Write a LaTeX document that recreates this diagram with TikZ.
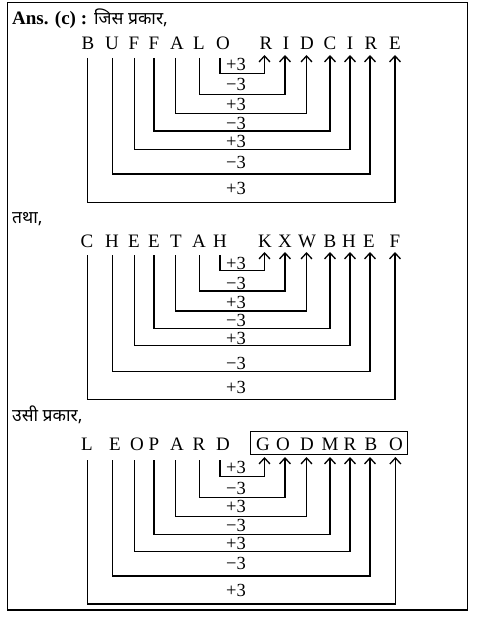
\documentclass[tikz,border=0pt]{standalone}
\usepackage{fontspec}
\setmainfont{Liberation Serif}
\newfontfamily\deva[Script=Devanagari]{Noto Sans}
\usetikzlibrary{arrows.meta}
\begin{document}
\begin{tikzpicture}[x=1pt,y=-1pt,
  letter/.style={font=\fontsize{19}{20}\selectfont, inner sep=0pt, anchor=base},
  lab/.style={font=\fontsize{18.5}{20}\selectfont, inner sep=0pt, anchor=base},
  head/.style={font=\bfseries\fontsize{19}{20}\selectfont, inner sep=0pt, anchor=base west},
  dev/.style={font=\deva\fontsize{17.5}{20}\selectfont, inner sep=0pt, anchor=base west},
  conn/.style={line width=1.3pt, -{Straight Barb[length=6pt,width=11pt]}},
  frame/.style={line width=1.3pt}]
\useasboundingbox (0,0) rectangle (482,636);
\draw[frame] (7.3,2.5) rectangle (467.5,610);

% ---------- section 1 ----------
\node[head] (h1) at (12,25) {Ans. (c) :};
\node[dev] (h1b) at (94,25) {जिस प्रकार,};
\foreach \t/\x [count=\i] in {B/88,U/112,F/134,F/154,A/177,L/199,O/223}
  \node[letter] (pa\i) at (\x,50) {\t};
\foreach \t/\x [count=\i] in {R/266,I/286,D/307,C/330,I/350,R/371,E/395}
  \node[letter] (pb\i) at (\x,50) {\t};
\foreach \s/\y [count=\k] in {+3/70.5,−3/91,+3/110.5,−3/129.3,+3/147.6,−3/169,+3/194.5}
  \node[lab] (pl\k) at (236,\y) {\s};
\foreach \i/\j/\lev/\ax/\bx in {7/1/73.3/-3/-1.5, 6/2/94.3/0.2/-1, 5/3/113.3/-1.7/-0.5, 4/4/131/0/0, 3/5/149.3/0.3/0, 2/6/174/0.2/-1, 1/7/202.3/-0.7/0}
  \draw[conn] ([xshift=\ax pt,yshift=-8pt]pa\i.base) |- (236,\lev) -| ([xshift=\bx pt,yshift=-5pt]pb\j.base);

% ---------- section 2 ----------
\node[dev] (h2) at (12,223) {तथा,};
\foreach \t/\x [count=\i] in {C/87,H/112,E/134,E/154,T/176,A/199,H/220}
  \node[letter] (qa\i) at (\x,247) {\t};
\foreach \t/\x [count=\i] in {K/265,X/285,W/307,B/330,H/349,E/369,F/395}
  \node[letter] (qb\i) at (\x,247) {\t};
\foreach \s/\y [count=\k] in {+3/269,−3/289.3,+3/308.2,−3/326.3,+3/344,−3/369.5,+3/393.2}
  \node[lab] (ql\k) at (236,\y) {\s};
\foreach \i/\j/\lev/\ax/\bx in {7/1/270.7/0/-0.5, 6/2/291/0.2/0, 5/3/311/-0.7/-0.5, 4/4/328.3/0/0, 3/5/345.7/0.3/1, 2/6/371.7/0.2/1, 1/7/399.3/0.3/0}
  \draw[conn] ([xshift=\ax pt,yshift=-8pt]qa\i.base) |- (236,\lev) -| ([xshift=\bx pt,yshift=-5pt]qb\j.base);

% ---------- section 3 ----------
\node[dev] (h3) at (12,421.5) {उसी प्रकार,};
\foreach \t/\x [count=\i] in {L/87,E/115,O/137,P/154,A/177,R/199,D/223}
  \node[letter] (ra\i) at (\x,450.5) {\t};
\foreach \t/\x [count=\i] in {G/263,O/283,D/307,M/330,R/350,B/371,O/396}
  \node[letter] (rb\i) at (\x,450.5) {\t};
\node[frame, draw, minimum width=156.6pt, minimum height=22.6pt, inner sep=0pt] (box) at (329,443) {};
\foreach \s/\y [count=\k] in {+3/473.2,−3/494.8,+3/512.5,−3/531.5,+3/549.6,−3/569.8,+3/596.5}
  \node[lab] (rl\k) at (236,\y) {\s};
\foreach \i/\j/\lev/\ax/\bx in {7/1/476.7/-3/1.5, 6/2/497.3/0.2/2, 5/3/516.7/-1.7/-0.5, 4/4/534.3/0/0, 3/5/551.7/-2.7/0, 2/6/576/-2.8/-1, 1/7/604/0.3/-0.6}
  \draw[conn] ([xshift=\ax pt,yshift=-9.5pt]ra\i.base) |- (236,\lev) -| ([xshift=\bx pt,yshift=-6.5pt]rb\j.base);
\end{tikzpicture}
\end{document}
